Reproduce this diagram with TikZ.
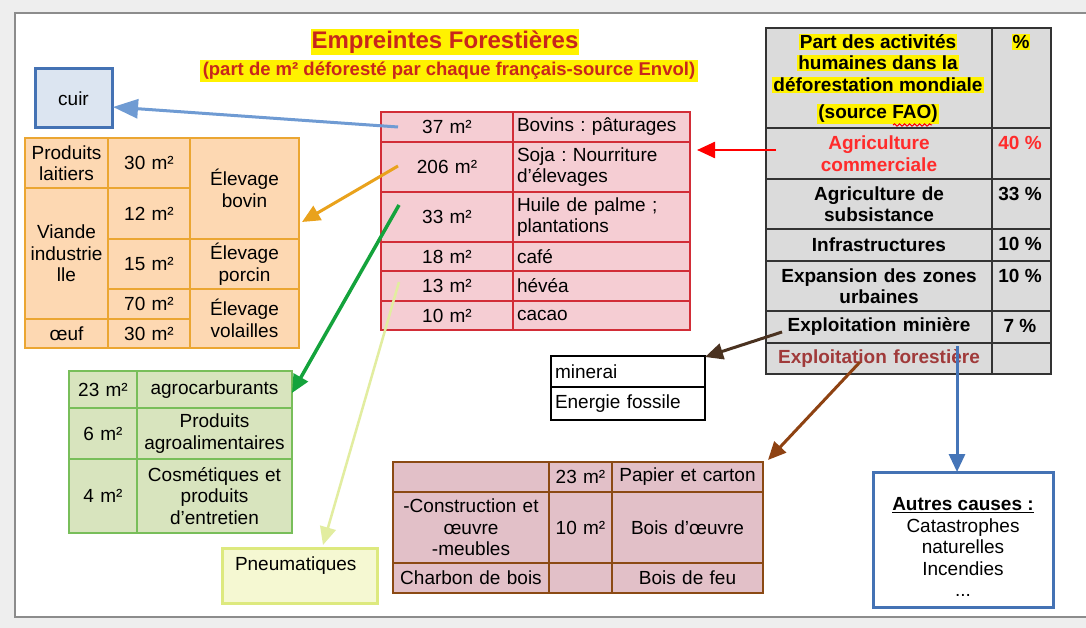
\documentclass[tikz,border=0pt]{standalone}
\usepackage{fontspec}
\setmainfont{Liberation Sans}
\usetikzlibrary{arrows.meta,decorations.pathmorphing}
\definecolor{bggray}{HTML}{EEEEEE}
\definecolor{framegray}{HTML}{8C8C8C}
\definecolor{titlered}{HTML}{C8261C}
\definecolor{orangeb}{HTML}{EBA632}
\definecolor{orangef}{HTML}{FDD8B2}
\definecolor{redb}{HTML}{D22D37}
\definecolor{redf}{HTML}{F5CDD3}
\definecolor{grayb}{HTML}{333333}
\definecolor{grayf}{HTML}{DBDBDB}
\definecolor{greenb}{HTML}{78BE5A}
\definecolor{greenf}{HTML}{D8E4BE}
\definecolor{pneub}{HTML}{DDE97E}
\definecolor{pneuf}{HTML}{F5F8D2}
\definecolor{brownb}{HTML}{8B4A14}
\definecolor{brownf}{HTML}{E2C0C8}
\definecolor{blueb}{HTML}{4472B4}
\definecolor{cuirf}{HTML}{DCE5F1}
\definecolor{cuirarrow}{HTML}{6F9BD3}
\definecolor{orangearrow}{HTML}{E9A21C}
\definecolor{greenarrow}{HTML}{14A33C}
\definecolor{lightarrow}{HTML}{E2EDA0}
\definecolor{redarrow}{HTML}{FF0000}
\definecolor{dbrown}{HTML}{4A3220}
\definecolor{brownarrow}{HTML}{8E4212}
\definecolor{bluearrow}{HTML}{4575B8}
\definecolor{agrired}{HTML}{FF2B2B}
\definecolor{forestred}{HTML}{A03A3A}
\newcommand\nf{\fontsize{19}{21.5}\selectfont}
\newcommand\tcell[7]{%
 \pgfmathsetmacro\cw{#4-#2}\pgfmathsetmacro\ch{#5-#3}\pgfmathsetmacro\tw{#4-#2-8}%
 \pgfmathsetmacro\cx{(#2+#4)/2}\pgfmathsetmacro\cy{(#3+#5)/2}%
 \node[#6, minimum width=\cw pt, minimum height=\ch pt, text width=\tw pt] (#1) at (\cx,\cy) {#7};}
\tikzset{
 ocell/.style={draw=orangeb, fill=orangef, line width=2pt, align=center},
 rcella/.style={draw=redb, fill=redf, line width=2pt, align=center},
 rcellb/.style={draw=redb, fill=redf, line width=2pt, align=left},
 gcell/.style={draw=grayb, fill=grayf, line width=1.5pt, align=center, font=\bfseries\nf},
 grcell/.style={draw=greenb, fill=greenf, line width=2pt, align=center},
 mcell/.style={draw=black, fill=white, line width=2pt, align=left},
 bcell/.style={draw=brownb, fill=brownf, line width=2.5pt, align=center},
 arr/.style={-{Triangle[length=18pt,width=16pt]}, line width=3pt},
 hl/.style={fill=yellow, font=\bfseries\nf, inner xsep=1pt, inner ysep=1pt},
}
\begin{document}
\frenchspacing
\begin{tikzpicture}[x=1pt,y=-1pt, every node/.style={font=\nf, inner xsep=4pt, inner ysep=0pt, outer sep=0pt}]
\useasboundingbox (0,0) rectangle (1086,628);
\fill[bggray] (0,0) rectangle (1086,628);
\draw[framegray, line width=2.5pt, fill=white] (15,13) rectangle (1120,617);

% title
\node[fill=yellow, text=titlered, font=\bfseries\fontsize{24}{28}\selectfont, inner xsep=1pt, inner ysep=2pt] (title) at (445,42) {Empreintes Forestières};
\node[fill=yellow, text=titlered, font=\bfseries\fontsize{18.5}{21}\selectfont, inner xsep=3pt, inner ysep=2pt] (sub) at (449,71) {(part de m² déforesté par chaque français-source Envol)};

% cuir
\tcell{cuir}{35}{69}{112}{128}{draw=blueb, fill=cuirf, line width=3pt, align=center}{cuir}

% orange table
\tcell{ol1}{25}{138}{108}{188}{ocell}{Produits\\laitiers}
\tcell{ol2}{25}{188}{108}{319}{ocell}{Viande\\industrie\\lle}
\tcell{ol3}{25}{319}{108}{348}{ocell}{œuf}
\tcell{om1}{108}{138}{190}{188}{ocell}{30 m²}
\tcell{om2}{108}{188}{190}{239}{ocell}{12 m²}
\tcell{om3}{108}{239}{190}{289}{ocell}{15 m²}
\tcell{om4}{108}{289}{190}{319}{ocell}{70 m²}
\tcell{om5}{108}{319}{190}{348}{ocell}{30 m²}
\tcell{or1}{190}{138}{299}{239}{ocell}{Élevage\\bovin}
\tcell{or2}{190}{239}{299}{289}{ocell}{Élevage\\porcin}
\tcell{or3}{190}{289}{299}{348}{ocell}{Élevage\\volailles}

% red table
\tcell{r1a}{381}{112}{513}{142}{rcella}{37 m²}
\tcell{r1b}{513}{112}{690}{142}{rcellb}{Bovins : pâturages}
\tcell{r2a}{381}{142}{513}{192}{rcella}{206 m²}
\tcell{r2b}{513}{142}{690}{192}{rcellb}{Soja : Nourriture\\d’élevages}
\tcell{r3a}{381}{192}{513}{242}{rcella}{33 m²}
\tcell{r3b}{513}{192}{690}{242}{rcellb}{Huile de palme ;\\plantations}
\tcell{r4a}{381}{242}{513}{271}{rcella}{18 m²}
\tcell{r4b}{513}{242}{690}{271}{rcellb}{café}
\tcell{r5a}{381}{271}{513}{301}{rcella}{13 m²}
\tcell{r5b}{513}{271}{690}{301}{rcellb}{hévéa}
\tcell{r6a}{381}{301}{513}{330}{rcella}{10 m²}
\tcell{r6b}{513}{301}{690}{330}{rcellb}{cacao}

% gray table
\tcell{g0a}{766}{28}{992}{128}{gcell}{}
\tcell{g0b}{992}{28}{1051}{128}{gcell}{}
\tcell{g1a}{766}{128}{992}{179}{gcell, text=agrired}{Agriculture\\commerciale}
\tcell{g1b}{992}{128}{1051}{179}{gcell}{}
\tcell{g2a}{766}{179}{992}{229}{gcell}{Agriculture de\\subsistance}
\tcell{g2b}{992}{179}{1051}{229}{gcell}{}
\tcell{g3a}{766}{229}{992}{261}{gcell}{Infrastructures}
\tcell{g3b}{992}{229}{1051}{261}{gcell}{}
\tcell{g4a}{766}{261}{992}{311}{gcell}{Expansion des zones\\urbaines}
\tcell{g4b}{992}{261}{1051}{311}{gcell}{}
\tcell{g5a}{766}{311}{992}{343}{gcell}{Exploitation minière}
\tcell{g5b}{992}{311}{1051}{343}{gcell}{}
\tcell{g6a}{766}{343}{992}{374}{gcell, text=forestred}{Exploitation forestière}
\tcell{g6b}{992}{343}{1051}{374}{gcell}{}
\node[hl] (h1) at (878,42) {Part des activités};
\node[hl] (h2) at (878,63) {humaines dans la};
\node[hl] (h3) at (878,85) {déforestation mondiale};
\node[hl] (h4) at (878,114) {(source FAO)};
\draw[red, line width=1pt, decorate, decoration={snake, amplitude=1.2pt, segment length=5pt}] (893,125) -- (932,125);
\node[hl] (pc) at (1021,42) {\%};
\node[font=\bfseries\nf, text=agrired] (p1) at (1020,143) {40 \%};
\node[font=\bfseries\nf] (p2) at (1020,194) {33 \%};
\node[font=\bfseries\nf] (p3) at (1020,244) {10 \%};
\node[font=\bfseries\nf] (p4) at (1020,276) {10 \%};
\node[font=\bfseries\nf] (p5) at (1020,326) {7 \%};

% green table
\tcell{ga1}{69}{371}{137}{408}{grcell}{23 m²}
\tcell{gb1}{137}{371}{292}{408}{grcell}{agrocarburants}
\tcell{ga2}{69}{408}{137}{459}{grcell}{6 m²}
\tcell{gb2}{137}{408}{292}{459}{grcell}{Produits\\agroalimentaires}
\tcell{ga3}{69}{459}{137}{533}{grcell}{4 m²}
\tcell{gb3}{137}{459}{292}{533}{grcell}{Cosmétiques et\\produits\\d’entretien}

% pneumatiques
\tcell{pneu}{222}{548}{377}{603}{draw=pneub, fill=pneuf, line width=3pt}{}
\node[anchor=west] (pneut) at (231,566) {Pneumatiques};

% minerai
\tcell{m1}{551}{356}{705}{387}{mcell}{minerai}
\tcell{m2}{551}{387}{705}{420}{mcell}{Energie fossile}

% brown table
\tcell{b1a}{393}{462}{549}{492}{bcell}{}
\tcell{b1b}{549}{462}{612}{492}{bcell}{23 m²}
\tcell{b1c}{612}{462}{763}{492}{bcell}{Papier et carton}
\tcell{b2a}{393}{492}{549}{563}{bcell}{-Construction et\\œuvre\\-meubles}
\tcell{b2b}{549}{492}{612}{563}{bcell}{10 m²}
\tcell{b2c}{612}{492}{763}{563}{bcell}{Bois d’œuvre}
\tcell{b3a}{393}{563}{549}{593}{bcell}{Charbon de bois}
\tcell{b3b}{549}{563}{612}{593}{bcell}{}
\tcell{b3c}{612}{563}{763}{593}{bcell}{Bois de feu}

% autres causes
\tcell{autres}{873}{472}{1053}{607}{draw=blueb, fill=white, line width=3pt}{}
\node[align=center] (autrest) at (963,547) {\underline{\textbf{Autres causes :}}\\Catastrophes\\naturelles\\Incendies\\...};

% connectors
\coordinate (cuirS) at (398,127);
\coordinate (cuirE) at (113,107);
\coordinate (oraS) at (398,166);
\coordinate (oraE) at (302,222);
\coordinate (grnS) at (399,205);
\coordinate (grnE) at (292,393);
\coordinate (ltS) at (399,282);
\coordinate (ltE) at (323,545);
\coordinate (redS) at (776,150);
\coordinate (redE) at (697,150);
\coordinate (minS) at (782,332);
\coordinate (minE) at (705,357);
\coordinate (forS) at (860,362);
\coordinate (forE) at (768,460);
\coordinate (autS) at (957,346);
\draw[arr, cuirarrow, -{Triangle[length=25pt,width=19pt]}] (cuirS) -- (cuirE);
\draw[arr, orangearrow] (oraS) -- (oraE);
\draw[arr, greenarrow, line width=3.5pt] (grnS) -- (grnE);
\draw[arr, lightarrow, line width=2.5pt] (ltS) -- (ltE);
\draw[arr, redarrow, line width=2.5pt] (redS) -- (redE);
\draw[arr, dbrown] (minS) -- (minE);
\draw[arr, brownarrow] (forS) -- (forE);
\draw[arr, bluearrow] (autS) -- (autres.north -| autS);
\end{tikzpicture}
\end{document}
